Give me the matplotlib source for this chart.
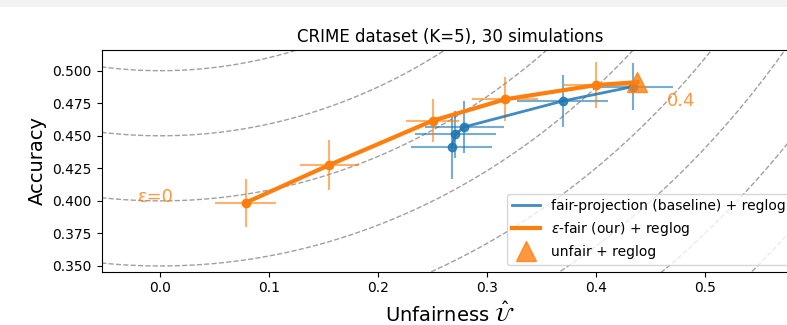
import numpy as np
import matplotlib
matplotlib.use("Agg")
import matplotlib.pyplot as plt
from matplotlib.patches import Rectangle

# ---- data ----
fair_proj_U = [0.2672, 0.2706, 0.2787, 0.369, 0.4332]
fair_proj_acc = [0.4416, 0.4512, 0.4568, 0.4767, 0.4877]
fair_proj_Uerr = [0.037, 0.037, 0.036, 0.042, 0.037]
fair_proj_accerr = [0.025, 0.018, 0.020, 0.020, 0.018]

eps_fair_U = [0.0782, 0.1549, 0.2497, 0.316, 0.400]
eps_fair_acc = [0.3986, 0.4276, 0.4616, 0.478, 0.489]
eps_fair_Uerr = [0.028, 0.027, 0.024, 0.030, 0.030]
eps_fair_accerr = [0.0184, 0.0192, 0.0163, 0.017, 0.0175]

unfair_U = [0.4374]
unfair_acc = [0.4912]

radii = [0.45, 0.5, 0.55, 0.6, 0.65, 0.7, 0.75, 0.8, 0.85, 0.9, 0.95]

blue = '#1f77b4'
orange = '#ff7f0e'

fig = plt.figure(figsize=(7.87, 3.25), dpi=100)
fig.patches.append(Rectangle((0, 1 - 7 / 325), 1, 7 / 325, transform=fig.transFigure,
                             facecolor='#f2f2f2', edgecolor='none', zorder=-10))
ax = fig.add_axes([101.5 / 787, 1 - 271.7 / 325, (798.5 - 101.5) / 787, (271.7 - 50) / 325])

# iso-distance curves to the ideal point (0, 1)
for r in radii:
    t = np.linspace(-r, r, 2000)
    ax.plot(t, 1 - np.sqrt(np.clip(r ** 2 - t ** 2, 0, None)), '--', color='gray',
            lw=1.0, alpha=0.75, zorder=1)

ax.errorbar(fair_proj_U, fair_proj_acc, xerr=fair_proj_Uerr, yerr=fair_proj_accerr,
            fmt='none', ecolor=blue, alpha=0.6, lw=1.5, zorder=2)
ax.plot(fair_proj_U, fair_proj_acc, '-', color=blue, lw=2, alpha=0.85, zorder=3,
        label='fair-projection (baseline) + reglog')
ax.plot(fair_proj_U, fair_proj_acc, 'o', color=blue, ms=6, alpha=0.85, zorder=3)

ax.errorbar(eps_fair_U, eps_fair_acc, xerr=eps_fair_Uerr, yerr=eps_fair_accerr,
            fmt='none', ecolor=orange, alpha=0.6, lw=1.5, zorder=2)
ax.plot(eps_fair_U + unfair_U, eps_fair_acc + unfair_acc, '-', color=orange, lw=3, zorder=4,
        label=r'$\epsilon$-fair (our) + reglog')
ax.plot(eps_fair_U, eps_fair_acc, 'o', color=orange, ms=6, zorder=4)

ax.plot(unfair_U, unfair_acc, '^', color=orange, alpha=0.8, ms=15, ls='none', zorder=3,
        label='unfair + reglog')

ax.text(-0.0206, 0.4032, 'ε=0', color=orange, alpha=0.8, fontsize=13, va='center', ha='left')
ax.text(0.4647, 0.477, '0.4', color=orange, alpha=0.8, fontsize=13, va='center', ha='left')

ax.set_xlim(-0.0541, (798.5 - 160.5) / 1090)
ax.set_ylim(0.3456, 0.5159)
ax.set_xticks([0.0, 0.1, 0.2, 0.3, 0.4, 0.5])
ax.set_yticks([0.35, 0.375, 0.4, 0.425, 0.45, 0.475, 0.5])
ax.yaxis.set_major_formatter(matplotlib.ticker.FormatStrFormatter('%.3f'))
ax.set_xlabel(r'Unfairness $\hat{\mathcal{U}}$', fontsize=14)
ax.set_ylabel('Accuracy', fontsize=14)
ax.set_title('CRIME dataset (K=5), 30 simulations', fontsize=12)
ax.legend(loc='lower right', fontsize=10)

fig.savefig('out.png', dpi=100)
